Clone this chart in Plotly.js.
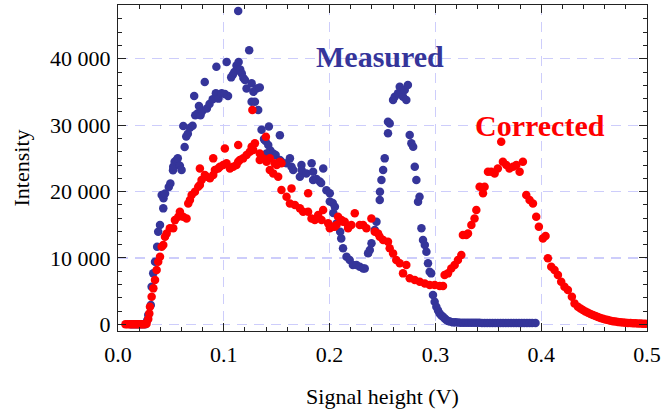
<!DOCTYPE html>
<html>
<head>
<meta charset="utf-8">
<script src="https://cdn.plot.ly/plotly-3.0.1.min.js"></script>
<style>html,body{margin:0;padding:0;background:#fff;}#chart{width:662px;height:412px;}</style>
</head>
<body>
<div id="chart"></div>
<script>
// ---- Data ----
const measuredX = [
  0.012,0.014,0.016,0.018,0.020,0.022,0.024,0.026,0.0276,0.0286,0.031,0.0318,0.0333,0.035,0.037,0.038,0.0397,0.0413,0.0428,0.043,0.0445,0.048,0.0495,
  0.052,0.0522,0.0535,0.0554,0.0565,0.0585,0.0601,0.0617,0.063,0.0645,0.066,0.068,0.0705,0.072,0.073,0.0755,0.0765,0.078,0.0795,0.082,0.084,0.0865,0.0895,
  0.0925,0.093,0.095,0.098,0.101,0.1027,0.104,0.107,0.1085,0.110,0.112,0.1136,0.114,0.1155,0.117,0.1185,0.120,0.1215,0.124,0.1263,0.1263,0.128,0.1294,
  0.131,0.1325,0.134,0.1357,0.138,0.1395,0.1404,0.142,0.1426,0.144,0.1467,0.149,0.153,0.153,0.1545,0.1593,0.1625,0.164,0.1656,0.1719,0.1734,0.1735,0.178,
  0.183,0.1844,0.1844,0.1876,0.1907,0.192,0.194,0.197,0.2002,0.2002,0.203,0.2035,0.205,0.2065,0.210,0.211,0.2127,0.216,0.219,0.222,0.2254,0.2285,0.2317,
  0.2332,0.2364,0.238,0.2396,0.2427,0.2443,0.2474,0.2476,0.249,0.2506,0.2521,0.2552,0.2552,0.2568,0.260,0.2616,0.2647,0.2663,0.2694,0.271,0.2725,0.274,
  0.2757,0.2773,0.279,0.2805,0.282,0.2836,0.285,0.2868,0.2883,0.290,0.2915,0.293,0.2946,0.296,0.2977,0.2993,0.3009,0.3025,0.304,0.3056,0.3072,0.3088,
  0.3104,0.312,0.3136,0.3166,0.319,0.3215,0.324,0.3265,0.329,0.3315,0.334,0.3365,0.339,0.3415,0.344,0.3465,0.349,0.3515,0.354,0.3565,0.359,0.3615,0.364,
  0.3665,0.369,0.3715,0.374,0.3765,0.379,0.3815,0.384,0.3865,0.389,0.3915,0.3946
];
const measuredY = [
  0,0,0,0,0,0,0,0,600,1400,2900,5660,7680,9430,11690,13950,14950,19470,17470,19000,19700,20700,21200,
  23200,23740,24500,24740,25000,23900,23240,29870,26700,28300,28700,29600,29900,34400,31500,31800,32900,31500,32100,36500,32500,33200,33900,
  34800,38800,34000,34800,34700,39500,34400,37200,37600,38000,39000,47200,39500,38400,37800,37100,36800,35540,41300,36300,33520,35030,33520,
  35540,32270,35690,29300,27900,27600,25750,27000,29800,26200,25750,25500,28500,24740,24490,24250,25000,23740,23240,22230,24000,23240,22740,
  24250,21730,22980,21900,21500,21300,23490,20200,19730,18500,18270,16760,17700,15200,13950,12950,11450,10180,9680,8930,8930,8670,8430,
  8430,10700,11200,12200,14200,15450,18720,19970,21730,23240,25000,28770,30520,30270,33780,34280,34790,35780,34280,35290,33780,36040,
  28510,27260,26750,23740,21730,18470,19220,14460,12700,11940,10940,9190,7920,7680,4410,3400,2650,2100,1650,1350,1140,900,
  650,520,420,300,300,280,260,250,250,240,240,230,230,230,220,220,220,220,210,210,210,210,210,
  210,210,210,210,210,210,210,210,210,210,220,220
];
const correctedX = [
  0.007,0.009,0.011,0.013,0.015,0.017,0.019,0.021,0.023,0.025,0.027,0.0286,0.0296,0.0302,0.0318,0.0334,0.035,0.0365,0.038,0.0397,0.0413,0.0428,0.0444,
  0.046,0.049,0.0522,0.0538,0.057,0.0585,0.0616,0.0648,0.0664,0.068,0.0696,0.0727,0.0758,0.0774,0.0774,0.079,0.0821,0.0837,0.0869,0.090,0.090,0.0916,
  0.0947,0.0963,0.0994,0.101,0.1026,0.1058,0.1089,0.112,0.1136,0.1136,0.1152,0.1183,0.1215,0.1246,0.1263,0.127,0.1278,0.1294,0.134,0.134,0.137,0.1398,
  0.1404,0.1435,0.1435,0.1467,0.148,0.150,0.1514,0.153,0.1545,0.1545,0.1593,0.1625,0.164,0.1672,0.1719,0.175,0.1797,0.1797,0.1829,0.186,0.1892,0.1924,
  0.1939,0.1986,0.2002,0.2033,0.2049,0.2065,0.208,0.2112,0.2127,0.2143,0.2175,0.2175,0.2206,0.2238,0.2285,0.2317,0.2348,0.2395,0.2427,0.2458,0.2474,
  0.2506,0.2552,0.2568,0.260,0.263,0.2663,0.2694,0.2725,0.2757,0.2805,0.2852,0.290,0.2946,0.2993,0.304,0.3072,0.3087,0.3119,0.315,0.3182,0.3213,0.3245,
  0.326,0.3292,0.3308,0.334,0.337,0.3387,0.3418,0.345,0.3465,0.3497,0.3528,0.356,0.359,0.3622,0.3638,0.367,0.370,0.3733,0.3765,0.3796,0.3827,0.3859,
  0.389,0.3922,0.3953,0.3978,0.4016,0.4041,0.4063,0.4095,0.4126,0.4158,0.4189,0.422,0.4252,0.429,0.4315,0.4347,0.4371,0.4394,0.4418,0.4442,0.4466,
  0.4489,0.4513,0.4536,0.456,0.4584,0.4607,0.4631,0.4655,0.4678,0.4702,0.4726,0.4749,0.4773,0.4797,0.482,0.4844,0.4868,0.4891,0.4915,0.4939,0.4962,0.4986
];
const correctedY = [
  0,0,0,0,0,0,0,0,0,0,100,800,1650,2650,4160,5420,6670,8180,9430,10180,11690,11940,13190,
  13700,14460,14460,15700,16200,16950,16200,15960,18220,18720,19470,19970,20720,23490,20980,21730,22480,22230,21990,22480,25000,23240,
  23490,23740,24000,26500,24250,23490,23740,24000,24490,27000,24740,25000,25500,26000,26750,32270,26250,27260,25750,24740,25000,28250,
  24490,25000,23240,22740,24250,24000,22230,24490,24250,20230,19220,18220,20480,17970,17470,16960,19730,16960,15960,15710,16460,15710,
  17210,15210,14460,14700,14700,14950,16200,15710,15450,15450,14460,14700,14950,16720,14950,14950,14460,15960,13950,13700,13190,
  12700,12440,11450,10690,9680,9190,7680,8930,6930,6670,6420,6170,5920,5920,5770,5770,7420,7680,8430,8930,9680,10440,
  13450,13450,13700,14950,15960,17210,20720,19730,20720,22980,22980,22740,23490,27500,24490,24000,23490,23740,24000,22980,24490,19470,
  18720,18220,16200,14700,12950,13300,9940,8670,8180,7420,6420,5660,5170,4160,3160,2650,2400,2150,1950,1750,1550,
  1400,1250,1100,950,850,750,650,550,480,420,370,320,280,250,220,200,180,160,140,120,110,100
];
const xTickVals = [0, 0.1, 0.2, 0.3, 0.4, 0.5];
const xTickText = ["0.0", "0.1", "0.2", "0.3", "0.4", "0.5"];
const yTickVals = [0, 10000, 20000, 30000, 40000];
const yTickText = ["0", "10 000", "20 000", "30 000", "40 000"];
const seriesNames = ["Measured", "Corrected"];
const seriesColors = ["#35359a", "#ff0000"];
const labelPos = [[0.2474, 40400], [0.3985, 29900]];

const serif = "Liberation Serif, Times New Roman, serif";

const traces = [
  {x: measuredX, y: measuredY, name: seriesNames[0], type: "scatter", mode: "markers",
   marker: {color: seriesColors[0], size: 8.5}},
  {x: correctedX, y: correctedY, name: seriesNames[1], type: "scatter", mode: "markers",
   marker: {color: seriesColors[1], size: 8.5}}
];

const gridColor = "#cdcdfb";
const layout = {
  width: 662, height: 412,
  margin: {l: 118, r: 15, t: 5, b: 81},
  paper_bgcolor: "#ffffff", plot_bgcolor: "#ffffff",
  showlegend: false,
  font: {family: serif, size: 22, color: "#000"},
  xaxis: {
    range: [0, 0.5], tickmode: "array", tickvals: xTickVals, ticktext: xTickText,
    ticks: "inside", ticklen: 8, tickcolor: "#222", tickwidth: 1,
    showline: true, linecolor: "#222", linewidth: 1, mirror: "allticks",
    showgrid: true, gridcolor: gridColor, griddash: "10px,7px", gridwidth: 1.2,
    zeroline: false, ticklabelstandoff: 4,
    minor: {dtick: 0.02, tick0: 0, ticks: "inside", ticklen: 4, tickcolor: "#222", showgrid: false},
    title: {text: "Signal height (V)", font: {family: serif, size: 22}, standoff: 22}
  },
  yaxis: {
    range: [-1000, 48100], tickmode: "array", tickvals: yTickVals, ticktext: yTickText,
    ticks: "inside", ticklen: 8, tickcolor: "#222", tickwidth: 1,
    showline: true, linecolor: "#222", linewidth: 1, mirror: "allticks",
    showgrid: true, gridcolor: gridColor, griddash: "10px,7px", gridwidth: 1.2,
    zeroline: false, ticklabelstandoff: 2,
    minor: {dtick: 2000, tick0: 0, ticks: "inside", ticklen: 4, tickcolor: "#222", showgrid: false},
    title: {text: "Intensity", font: {family: serif, size: 22}, standoff: 14}
  },
  annotations: seriesNames.map((n, i) => ({
    x: labelPos[i][0], y: labelPos[i][1], xref: "x", yref: "y", text: "<b>" + n + "</b>",
    showarrow: false, xanchor: "center", yanchor: "middle",
    font: {family: serif, size: 30, color: seriesColors[i]}
  }))
};

Plotly.newPlot("chart", traces, layout, {displayModeBar: false, staticPlot: true});
</script>
</body>
</html>
